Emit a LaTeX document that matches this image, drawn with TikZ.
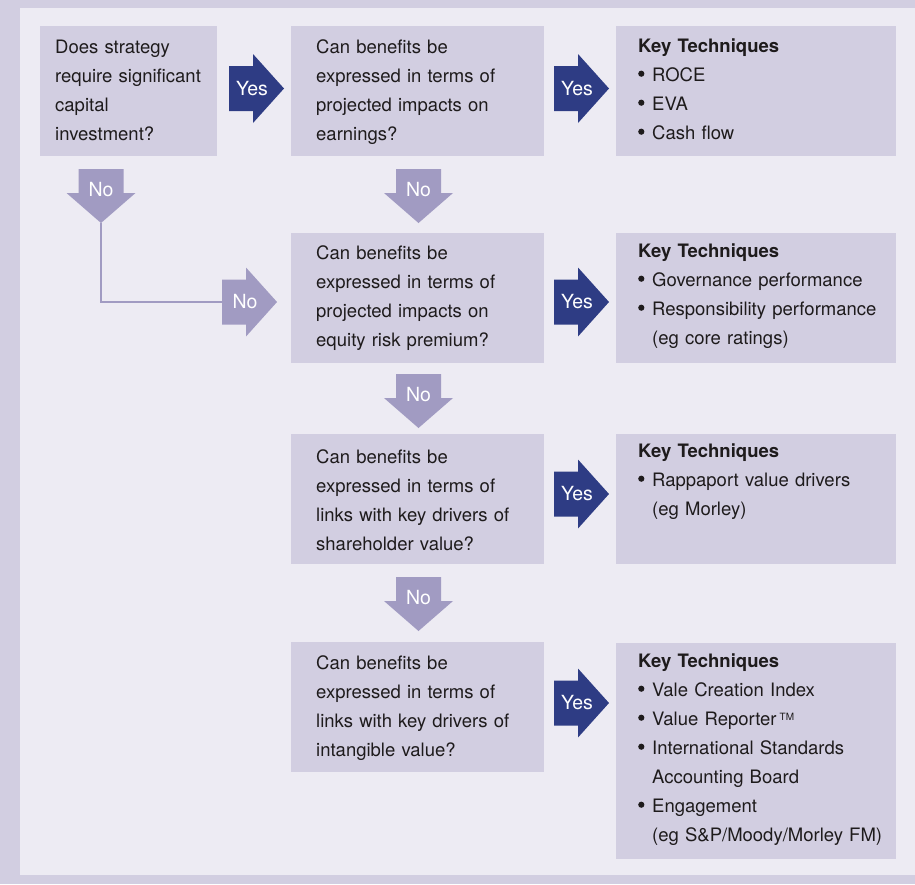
\documentclass[tikz,border=0pt]{standalone}
\usepackage{fontspec}
\setmainfont{TeX Gyre Heros}
\definecolor{framecol}{RGB}{210,206,225}
\definecolor{panelcol}{RGB}{237,235,243}
\definecolor{boxcol}{RGB}{210,206,225}
\definecolor{yescol}{RGB}{46,60,132}
\definecolor{nocol}{RGB}{161,155,194}
\definecolor{txtcol}{RGB}{30,27,28}
% list bullet and hanging indent for the technique lists
\newcommand{\kbul}{\makebox[14pt][l]{\tikz[baseline=0pt]\fill[txtcol] (3.3pt,7.3pt) circle (3.1pt);}}
\newcommand{\kind}{\hspace*{14pt}}
\begin{document}
\begin{tikzpicture}[x=1pt,y=-1pt,
  boxbase/.style={rectangle, fill=boxcol, inner sep=0pt, anchor=north west, minimum height=130pt},
  startbox/.style={boxbase, minimum width=177pt},
  qbox/.style={boxbase, minimum width=253pt},
  kbox/.style={boxbase, minimum width=280pt},
  txt/.style={anchor=base west, inner sep=0pt, align=left, text width=250pt, text=txtcol,
    font=\fontsize{18.5}{29}\selectfont},
  lbl/.style={inner sep=0pt, text=white, font=\fontsize{19.5}{20}\selectfont},
  noline/.style={draw=nocol, line width=2pt},
  % right-pointing block arrow, origin at the middle of its tail
  rarrow/.pic={
    \fill[pic actions] (0,-22.5) -- (24,-22.5) -- (24,-34.5) -- (55,0) -- (24,34.5)
      -- (24,22.5) -- (0,22.5) -- cycle;
    \coordinate (-tail) at (0,0);
    \node[lbl] (-lbl) at (23,0) {\tikzpictext};
  },
  % down-pointing block arrow, origin at the middle of its tail
  darrow/.pic={
    \fill[pic actions] (-22.5,0) -- (22.5,0) -- (22.5,24) -- (34.5,24) -- (0,54)
      -- (-34.5,24) -- (-22.5,24) -- cycle;
    \coordinate (-tip) at (0,54);
    \node[lbl] (-lbl) at (0,21) {\tikzpictext};
  }
]
\useasboundingbox (0,0) rectangle (915,884);
\fill[framecol] (0,0) rectangle (915,884);
\fill[panelcol] (20,8) rectangle (915,875);

% question boxes
\node[startbox] (s)  at (40,26)  {};
\node[qbox]     (q1) at (291,26) {};
\node[qbox]     (q2) at (291,233) {};
\node[qbox]     (q3) at (291,434) {};
\node[qbox]     (q4) at (291,642) {};
% technique boxes
\node[kbox] (k1) at (616,26)  {};
\node[kbox] (k2) at (616,233) {};
\node[kbox] (k3) at (616,434) {};
\node[kbox, minimum height=216pt] (k4) at (616,643) {};

% question texts
\node[txt] (st)  at (55,53)   {Does strategy\\require significant\\capital\\investment?};
\node[txt] (q1t) at (316,53)  {Can benefits be\\expressed in terms of\\projected impacts on\\earnings?};
\node[txt] (q2t) at (316,259) {Can benefits be\\expressed in terms of\\projected impacts on\\equity risk premium?};
\node[txt] (q3t) at (316,463) {Can benefits be\\expressed in terms of\\links with key drivers of\\shareholder value?};
\node[txt] (q4t) at (316,669) {Can benefits be\\expressed in terms of\\links with key drivers of\\intangible value?};

% technique texts
\node[txt] (k1t) at (638,52) {\textbf{Key Techniques}\\\kbul ROCE\\\kbul EVA\\\kbul Cash flow};
\node[txt] (k2t) at (638,257) {\textbf{Key Techniques}\\\kbul Governance performance\\\kbul Responsibility performance\\\kind(eg core ratings)};
\node[txt] (k3t) at (638,457) {\textbf{Key Techniques}\\\kbul Rappaport value drivers\\\kind(eg Morley)};
\node[txt] (k4t) at (638,667) {\textbf{Key Techniques}\\\kbul Vale Creation Index\\\kbul Value Reporter\,{\fontsize{10}{10}\selectfont\raisebox{5pt}{TM}}\\\kbul International Standards\\\kind Accounting Board\\\kbul Engagement\\\kind(eg S\&P/Moody/Morley FM)};

% "Yes" arrows
\pic[fill=yescol, pic text=Yes] (y1) at (229,88.5) {rarrow};
\pic[fill=yescol, pic text=Yes] (y2) at (554,88.5) {rarrow};
\pic[fill=yescol, pic text=Yes] (y3) at (554,302)  {rarrow};
\pic[fill=yescol, pic text=Yes] (y4) at (554,494)  {rarrow};
\pic[fill=yescol, pic text=Yes] (y5) at (554,703)  {rarrow};

% "No" arrows
\pic[fill=nocol, pic text=No] (n1) at (101,169)   {darrow};
\pic[fill=nocol, pic text=No] (n2) at (418.5,169) {darrow};
\pic[fill=nocol, pic text=No] (n3) at (418.5,374) {darrow};
\pic[fill=nocol, pic text=No] (n4) at (418.5,577) {darrow};
\pic[fill=nocol, pic text=No] (n5) at (222,302)   {rarrow};

% link from the first "No" to the second question row
\draw[noline] (n1-tip) |- (n5-tail);
\end{tikzpicture}
\end{document}
